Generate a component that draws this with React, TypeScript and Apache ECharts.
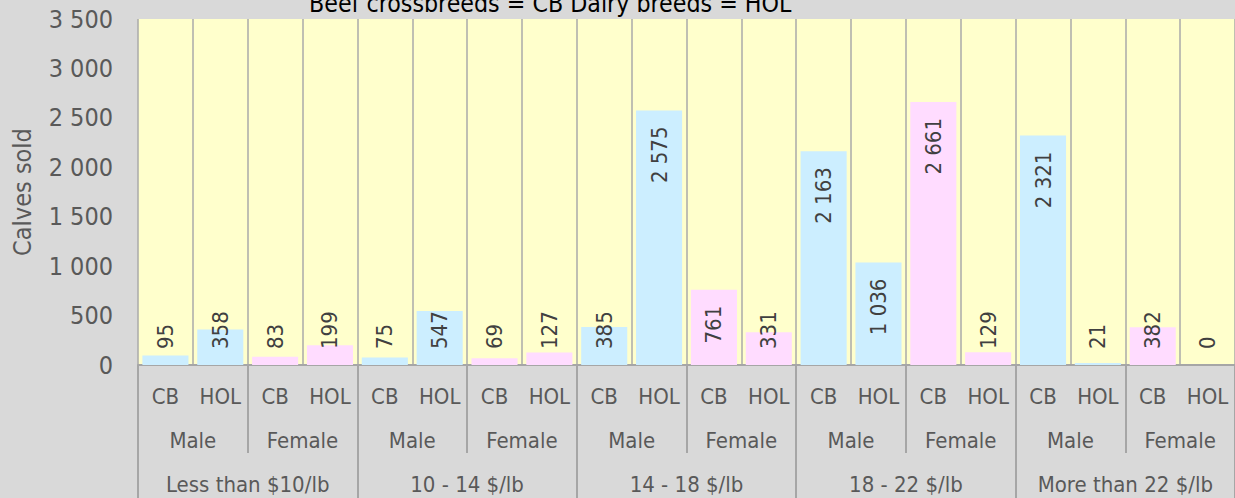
import React, { useEffect, useRef } from "react";
import * as echarts from "echarts";

const priceRanges = ["Less than $10/lb", "10 - 14 $/lb", "14 - 18 $/lb", "18 - 22 $/lb", "More than 22 $/lb"];
const genders = ["Male", "Female"];
const breeds = ["CB", "HOL"];
// order: price -> gender -> breed
const calvesSold = [95, 358, 83, 199, 75, 547, 69, 127, 385, 2575, 761, 331, 2163, 1036, 2661, 129, 2321, 21, 382, 0];
const genderColors: Record<string, string> = { Male: "#cceeff", Female: "#ffdcff" };
const yTicks = [0, 500, 1000, 1500, 2000, 2500, 3000, 3500];
const titleText = "Beef crossbreeds = CB Dairy breeds = HOL";
const yTitle = "Calves sold";

const FONT = "'DejaVu Sans Condensed', 'DejaVu Sans', sans-serif";
const fmt = (v: number) => String(v).replace(/\B(?=(\d{3})+(?!\d))/g, " ");

export default function App() {
  const ref = useRef<HTMLDivElement>(null);
  useEffect(() => {
    const chart = echarts.init(ref.current!, null, { renderer: "svg" });
    const breedCats: string[] = [];
    const genderCats: string[] = [];
    const colors: string[] = [];
    priceRanges.forEach(() => {
      genders.forEach((g) => {
        genderCats.push(g);
        breeds.forEach((b) => {
          breedCats.push(b);
          colors.push(genderColors[g]);
        });
      });
    });
    const grid = { left: 138, right: 0, top: 19, bottom: 133 };
    const axisColor = "#a6a6a6";
    const labelColor = "#595959";
    const yMax = yTicks[yTicks.length - 1];
    const plotH = 498 - grid.top - grid.bottom;
    const data = calvesSold.map((v, i) => {
      const txt = fmt(v);
      const textLen = txt.length * 11.5;
      const barPx = (v / yMax) * plotH;
      const top = barPx >= 32 + textLen;
      return {
        value: v,
        itemStyle: { color: colors[i] },
        label: top
          ? { position: "insideTop", distance: 16, align: "right", verticalAlign: "middle" }
          : { position: "insideBottom", distance: 16, align: "left", verticalAlign: "middle" },
      };
    });
    chart.setOption({
      animation: false,
      backgroundColor: "#d9d9d9",
      textStyle: { fontFamily: FONT },
      grid: [
        { ...grid, show: true, backgroundColor: "#ffffcc", borderWidth: 0 },
        { ...grid },
        { ...grid },
      ],
      xAxis: [
        {
          type: "category",
          gridIndex: 0,
          data: breedCats,
          position: "bottom",
          axisLine: { show: true, lineStyle: { color: axisColor, width: 2 } },
          axisTick: { show: false },
          splitLine: { show: true, lineStyle: { color: "#aaaaaa", width: 1.5 } },
          axisLabel: { color: labelColor, fontSize: 22, fontFamily: FONT, margin: 20, interval: 0 },
        },
        {
          type: "category",
          gridIndex: 1,
          data: genderCats,
          position: "bottom",
          axisLine: { show: false },
          axisTick: { show: true, length: 88, lineStyle: { color: axisColor, width: 2 } },
          axisLabel: { color: labelColor, fontSize: 22, fontFamily: FONT, margin: 64, interval: 0 },
        },
        {
          type: "category",
          gridIndex: 2,
          data: priceRanges,
          position: "bottom",
          axisLine: { show: false },
          axisTick: { show: true, length: 134, lineStyle: { color: axisColor, width: 2 } },
          axisLabel: { color: labelColor, fontSize: 22, fontFamily: FONT, margin: 108, interval: 0 },
        },
      ],
      yAxis: [
        {
          type: "value",
          gridIndex: 0,
          min: 0,
          max: yMax,
          interval: 500,
          axisLine: { show: false },
          axisTick: { show: false },
          splitLine: { show: false },
          axisLabel: { color: labelColor, fontSize: 25, fontFamily: FONT, margin: 25, formatter: (v: number) => fmt(v) },
          name: yTitle,
          nameLocation: "middle",
          nameGap: 103,
          nameRotate: 90,
          nameTextStyle: { color: labelColor, fontSize: 25, fontFamily: FONT },
        },
        { type: "value", gridIndex: 1, show: false },
        { type: "value", gridIndex: 2, show: false },
      ],
      series: [
        {
          type: "bar",
          xAxisIndex: 0,
          yAxisIndex: 0,
          data,
          barCategoryGap: "16%",
          label: {
            show: true,
            rotate: 90,
            color: "#404040",
            fontSize: 22,
            fontFamily: FONT,
            formatter: (p: any) => fmt(p.value),
          },
        },
      ],
      graphic: [
        {
          type: "text",
          left: 309,
          top: -9,
          style: { text: titleText, fill: "#000000", fontSize: 24.7, fontFamily: FONT },
        },
      ],
    });
    return () => chart.dispose();
  }, []);
  return <div ref={ref} style={{ position: "fixed", left: 0, top: 0, width: 1235, height: 498 }} />;
}
